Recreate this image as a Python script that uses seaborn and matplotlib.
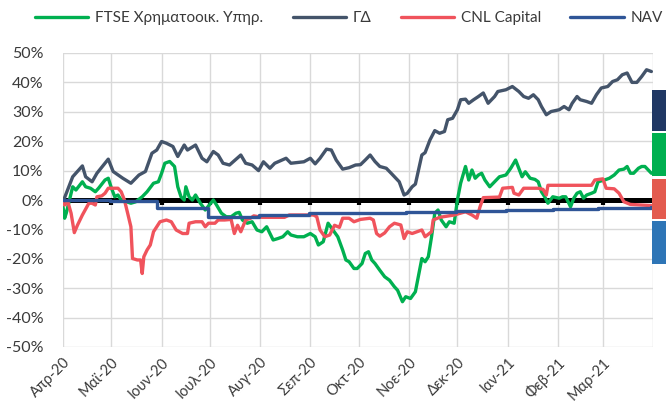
# Cumulative return chart: FTSE financials vs ΓΔ vs CNL Capital vs NAV
import pandas as pd
import matplotlib.pyplot as plt
from matplotlib.patches import Rectangle
from matplotlib.ticker import PercentFormatter
import seaborn as sns

# Data (% change since 1/4/2020)
ftse_dates = ["2020-04-01", "2020-04-02", "2020-04-03", "2020-04-07", "2020-04-09", "2020-04-13",
              "2020-04-15", "2020-04-18", "2020-04-21", "2020-04-23", "2020-04-27", "2020-04-29",
              "2020-05-01", "2020-05-03", "2020-05-05", "2020-05-07", "2020-05-13", "2020-05-16",
              "2020-05-20", "2020-05-23", "2020-05-27", "2020-05-30", "2020-06-01", "2020-06-03",
              "2020-06-06", "2020-06-09", "2020-06-11", "2020-06-13", "2020-06-15", "2020-06-16",
              "2020-06-18", "2020-06-20", "2020-06-22", "2020-06-25", "2020-06-28", "2020-07-03",
              "2020-07-05", "2020-07-08", "2020-07-11", "2020-07-14", "2020-07-17", "2020-07-19",
              "2020-07-21", "2020-07-24", "2020-07-27", "2020-07-30", "2020-08-02", "2020-08-05",
              "2020-08-09", "2020-08-12", "2020-08-15", "2020-08-18", "2020-08-20", "2020-08-24",
              "2020-08-28", "2020-09-01", "2020-09-04", "2020-09-06", "2020-09-09", "2020-09-12",
              "2020-09-15", "2020-09-18", "2020-09-21", "2020-09-23", "2020-09-25", "2020-09-28",
              "2020-09-30", "2020-10-03", "2020-10-05", "2020-10-07", "2020-10-09", "2020-10-11",
              "2020-10-14", "2020-10-17", "2020-10-20", "2020-10-23", "2020-10-25", "2020-10-28",
              "2020-10-30", "2020-11-02", "2020-11-05", "2020-11-09", "2020-11-11", "2020-11-13",
              "2020-11-15", "2020-11-17", "2020-11-19", "2020-11-21", "2020-11-24", "2020-11-26",
              "2020-11-29", "2020-12-01", "2020-12-03", "2020-12-06", "2020-12-08", "2020-12-10",
              "2020-12-12", "2020-12-14", "2020-12-16", "2020-12-18", "2020-12-21", "2020-12-24",
              "2020-12-27", "2020-12-31", "2021-01-03", "2021-01-06", "2021-01-08", "2021-01-10",
              "2021-01-12", "2021-01-15", "2021-01-18", "2021-01-20", "2021-01-22", "2021-01-24",
              "2021-01-26", "2021-01-29", "2021-02-02", "2021-02-04", "2021-02-06", "2021-02-09",
              "2021-02-11", "2021-02-13", "2021-02-15", "2021-02-17", "2021-02-19", "2021-02-22",
              "2021-02-24", "2021-02-26", "2021-03-02", "2021-03-05", "2021-03-08", "2021-03-11",
              "2021-03-14", "2021-03-16", "2021-03-18", "2021-03-20", "2021-03-23", "2021-03-25",
              "2021-03-27", "2021-03-31"]
ftse_vals = [-2.3, -6.2, -4.5, 4.5, 3.4, 6.2,
             4.5, 4.0, 2.8, 4.0, 6.8, 7.4,
             4.0, 1.1, 1.7, 0.0, -1.1, -0.6,
             1.1, 2.8, 5.7, 6.2, 9.1, 12.5,
             13.1, 11.4, 4.5, 1.1, 0.0, 4.5,
             1.1, 0.0, 1.7, -1.1, -3.4, 0.0,
             -1.7, -4.5, -5.7, -5.7, -4.5, -4.2,
             -6.8, -7.9, -7.4, -10.2, -10.8, -9.1,
             -13.6, -13.1, -12.5, -10.8, -11.9, -12.5,
             -12.5, -11.4, -12.5, -15.3, -14.2, -7.9,
             -10.2, -12.5, -17.0, -20.4, -21.0, -23.3,
             -23.3, -21.6, -18.2, -17.6, -20.4, -21.6,
             -23.9, -26.1, -27.3, -29.5, -30.7, -34.6,
             -32.9, -33.5, -31.2, -19.9, -21.0, -19.3,
             -12.5, -4.5, -3.4, -6.8, -9.1, -7.4,
             -7.9, 0.0, 5.7, 11.4, 6.8, 10.2,
             7.4, 8.5, 9.1, 6.8, 4.5, 6.2,
             7.9, 8.5, 10.8, 13.6, 10.8, 7.9,
             9.6, 7.4, 7.0, 6.2, 2.8, 1.1,
             -1.1, 1.1, 0.6, 1.1, 1.1, -2.3,
             0.6, 2.3, 2.8, 0.6, 1.7, 2.3,
             2.8, 6.2, 6.8, 7.4, 8.5, 10.2,
             10.5, 11.4, 9.1, 9.1, 10.8, 11.4,
             11.4, 9.1]

gd_dates = ["2020-04-01", "2020-04-07", "2020-04-13", "2020-04-15", "2020-04-19", "2020-04-22",
            "2020-04-29", "2020-05-02", "2020-05-08", "2020-05-13", "2020-05-18", "2020-05-22",
            "2020-05-26", "2020-05-29", "2020-06-01", "2020-06-04", "2020-06-08", "2020-06-11",
            "2020-06-15", "2020-06-17", "2020-06-22", "2020-06-26", "2020-06-29", "2020-07-03",
            "2020-07-06", "2020-07-09", "2020-07-13", "2020-07-20", "2020-07-23", "2020-07-27",
            "2020-07-31", "2020-08-03", "2020-08-07", "2020-08-10", "2020-08-17", "2020-08-20",
            "2020-08-28", "2020-09-01", "2020-09-04", "2020-09-07", "2020-09-11", "2020-09-14",
            "2020-09-17", "2020-09-21", "2020-09-25", "2020-09-29", "2020-10-02", "2020-10-05",
            "2020-10-08", "2020-10-11", "2020-10-14", "2020-10-18", "2020-10-21", "2020-10-26",
            "2020-10-29", "2020-10-31", "2020-11-03", "2020-11-05", "2020-11-09", "2020-11-11",
            "2020-11-14", "2020-11-17", "2020-11-20", "2020-11-23", "2020-11-25", "2020-11-28",
            "2020-12-01", "2020-12-03", "2020-12-06", "2020-12-08", "2020-12-11", "2020-12-14",
            "2020-12-17", "2020-12-20", "2020-12-24", "2020-12-26", "2020-12-31", "2021-01-04",
            "2021-01-08", "2021-01-11", "2021-01-14", "2021-01-17", "2021-01-20", "2021-01-22",
            "2021-01-25", "2021-01-28", "2021-02-02", "2021-02-05", "2021-02-08", "2021-02-10",
            "2021-02-13", "2021-02-15", "2021-02-19", "2021-02-22", "2021-02-25", "2021-02-28",
            "2021-03-04", "2021-03-07", "2021-03-10", "2021-03-13", "2021-03-16", "2021-03-19",
            "2021-03-22", "2021-03-25", "2021-03-28", "2021-03-31"]
gd_vals = [-0.6, 7.9, 11.6, 7.9, 6.2, 9.1,
           13.9, 9.7, 7.4, 5.7, 8.5, 9.7,
           15.9, 17.0, 19.9, 19.3, 18.2, 14.8,
           18.7, 17.0, 18.7, 14.2, 13.0, 16.5,
           15.3, 12.5, 11.9, 15.3, 12.5, 11.9,
           10.0, 13.0, 10.8, 12.5, 14.2, 12.5,
           13.0, 14.2, 12.3, 14.2, 17.3, 17.0,
           13.6, 10.5, 11.0, 11.9, 12.0, 13.6,
           15.3, 13.1, 11.4, 10.8, 9.1, 6.2,
           1.7, 2.3, 4.5, 5.4, 15.3, 16.1,
           20.4, 23.6, 22.7, 23.3, 27.3, 27.8,
           30.7, 34.1, 34.3, 32.9, 34.1, 35.2,
           36.4, 32.9, 35.2, 36.9, 37.5, 38.6,
           36.9, 35.2, 34.6, 35.8, 34.1, 31.8,
           29.0, 30.1, 30.7, 31.8, 30.7, 32.9,
           35.2, 34.1, 33.5, 32.9, 35.8, 38.1,
           38.6, 40.3, 40.9, 42.6, 43.2, 40.0,
           40.0, 42.0, 44.3, 43.7]

cnl_dates = ["2020-04-01", "2020-04-02", "2020-04-04", "2020-04-06", "2020-04-08", "2020-04-10",
             "2020-04-13", "2020-04-17", "2020-04-19", "2020-04-21", "2020-04-22", "2020-04-25",
             "2020-04-27", "2020-04-29", "2020-05-05", "2020-05-07", "2020-05-09", "2020-05-11",
             "2020-05-13", "2020-05-14", "2020-05-17", "2020-05-19", "2020-05-20", "2020-05-21",
             "2020-05-23", "2020-05-25", "2020-05-27", "2020-05-31", "2020-06-04", "2020-06-07",
             "2020-06-10", "2020-06-14", "2020-06-17", "2020-06-18", "2020-06-22", "2020-06-26",
             "2020-06-28", "2020-06-30", "2020-07-04", "2020-07-06", "2020-07-10", "2020-07-14",
             "2020-07-16", "2020-07-18", "2020-07-20", "2020-07-23", "2020-07-26", "2020-07-28",
             "2020-08-02", "2020-08-07", "2020-08-16", "2020-08-19", "2020-08-27", "2020-09-03",
             "2020-09-05", "2020-09-07", "2020-09-10", "2020-09-13", "2020-09-16", "2020-09-19",
             "2020-09-21", "2020-09-25", "2020-09-28", "2020-10-02", "2020-10-08", "2020-10-10",
             "2020-10-12", "2020-10-14", "2020-10-17", "2020-10-20", "2020-10-23", "2020-10-27",
             "2020-10-29", "2020-10-31", "2020-11-03", "2020-11-06", "2020-11-09", "2020-11-11",
             "2020-11-15", "2020-11-16", "2020-11-20", "2020-11-29", "2020-12-06", "2020-12-10",
             "2020-12-13", "2020-12-15", "2020-12-17", "2020-12-27", "2020-12-29", "2021-01-04",
             "2021-01-05", "2021-01-08", "2021-01-11", "2021-01-20", "2021-01-23", "2021-01-25",
             "2021-01-26", "2021-02-22", "2021-02-24", "2021-03-01", "2021-03-03", "2021-03-08",
             "2021-03-11", "2021-03-14", "2021-03-18", "2021-03-31"]
cnl_vals = [-1.1, -1.7, -0.6, -4.5, -11.1, -8.5,
            -5.1, -1.1, -1.1, -1.7, 1.1, 1.4,
            2.3, 4.0, 4.0, 2.8, 0.0, -4.5,
            -9.1, -19.9, -20.4, -20.4, -25.0, -19.3,
            -17.0, -15.3, -10.8, -7.4, -6.8, -7.4,
            -10.2, -11.4, -11.4, -7.9, -7.4, -7.4,
            -9.1, -7.9, -7.9, -6.8, -6.8, -6.6,
            -11.4, -8.6, -10.8, -6.8, -6.2, -5.4,
            -5.9, -5.9, -5.9, -5.1, -5.1, -5.1,
            -5.7, -10.2, -12.5, -11.9, -8.6, -9.3,
            -6.2, -6.2, -7.4, -6.6, -6.2, -6.8,
            -11.4, -12.3, -11.2, -9.1, -7.9, -8.5,
            -13.1, -10.8, -11.4, -10.8, -10.2, -12.5,
            -10.8, -6.8, -5.9, -5.1, -4.0, -5.1,
            -6.2, -2.3, 0.8, 1.0, 4.0, 4.3,
            2.3, 1.7, 4.0, 4.0, 3.6, 1.7,
            5.0, 5.0, 6.8, 7.2, 4.0, 3.8,
            2.3, -0.6, -1.5, -1.9]

# NAV is published monthly, held flat between updates
nav_dates = ["2020-04-01", "2020-04-30", "2020-05-29", "2020-06-30", "2020-07-31", "2020-08-31",
             "2020-09-30", "2020-10-30", "2020-11-30", "2020-12-31", "2021-01-29", "2021-02-26",
             "2021-03-31"]
nav_vals = [0.0, -0.3, -2.8, -5.7, -5.1, -4.5,
            -4.3, -4.0, -3.7, -3.5, -3.2, -2.8,
            -2.5]

month_labels = ["Απρ-20", "Μαϊ-20", "Ιουν-20", "Ιουλ-20", "Αυγ-20", "Σεπ-20",
                "Οκτ-20", "Νοε-20", "Δεκ-20", "Ιαν-21", "Φεβ-21", "Μαρ-21", ""]

series_names = ["FTSE Χρηματοοικ. Υπηρ.", "ΓΔ", "CNL Capital", "NAV"]
series_colors = ["#00B050", "#44546A", "#F0535C", "#2F5597"]
box_colors = ["#203864", "#00B050", "#E35B4F", "#2E75B6"]

# Style
sns.set_theme(style="whitegrid")
plt.rcParams["font.family"] = ["Lato", "Noto Sans", "DejaVu Sans"]
plt.rcParams["axes.unicode_minus"] = False
text_color = "#3A3A3A"

def make_df(dates, vals):
    return pd.DataFrame({"date": pd.to_datetime(dates), "value": [v / 100 for v in vals]})

fig, ax = plt.subplots(figsize=(6.66, 4.12), dpi=100)
fig.subplots_adjust(left=63 / 666, right=653 / 666, top=1 - 53 / 412, bottom=1 - 347 / 412)

months = pd.date_range("2020-04-01", "2021-04-01", freq="MS")

# thick zero line with month tick marks
ax.axhline(0, color="black", lw=3.6, zorder=1.5)
ax.vlines(months[:-1], -0.017, 0, color="black", lw=3, zorder=1.5)

sns.lineplot(data=make_df(ftse_dates, ftse_vals), x="date", y="value",
             color=series_colors[0], lw=2.4, label=series_names[0], ax=ax, zorder=3)
sns.lineplot(data=make_df(gd_dates, gd_vals), x="date", y="value",
             color=series_colors[1], lw=2.4, label=series_names[1], ax=ax, zorder=3)
sns.lineplot(data=make_df(cnl_dates, cnl_vals), x="date", y="value",
             color=series_colors[2], lw=2.4, label=series_names[2], ax=ax, zorder=3)
sns.lineplot(data=make_df(nav_dates, nav_vals), x="date", y="value",
             color=series_colors[3], lw=2.4, label=series_names[3], ax=ax, zorder=3,
             drawstyle="steps-post")

# axes
ax.set_xlim(months[0], months[-1])
ax.set_ylim(-0.5, 0.5)
ax.set_yticks([i / 10 for i in range(-5, 6)])
ax.yaxis.set_major_formatter(PercentFormatter(1.0, decimals=0))
ax.set_xticks(months)
ax.set_xticklabels(month_labels, rotation=45, ha="right", rotation_mode="anchor")
ax.set_xlabel("")
ax.set_ylabel("")
ax.tick_params(axis="y", length=0, pad=14, labelsize=11.5, labelcolor=text_color)
ax.tick_params(axis="x", length=0, pad=6, labelsize=10.5, labelcolor=text_color)
ax.grid(True, color="#D9D9D9", lw=1)
for s in ax.spines.values():
    s.set_visible(False)

# legend on top
handles, labels = ax.get_legend_handles_labels()
ax.get_legend().remove()
fig.legend(handles, labels, loc="center", bbox_to_anchor=(349 / 666, 1 - 18 / 412), ncol=4,
           frameon=False, fontsize=11, handlelength=3.5, handletextpad=0.45,
           columnspacing=1.9, labelcolor=text_color)

# coloured blocks cut off at the right edge
box_rows = [(90, 131), (133, 176), (179, 219), (221, 264)]
for (y0, y1), c in zip(box_rows, box_colors):
    fig.add_artist(Rectangle((652 / 666, 1 - y1 / 412), 14 / 666, (y1 - y0) / 412,
                             transform=fig.transFigure, color=c, lw=0))

plt.savefig("out.png", dpi=100)
